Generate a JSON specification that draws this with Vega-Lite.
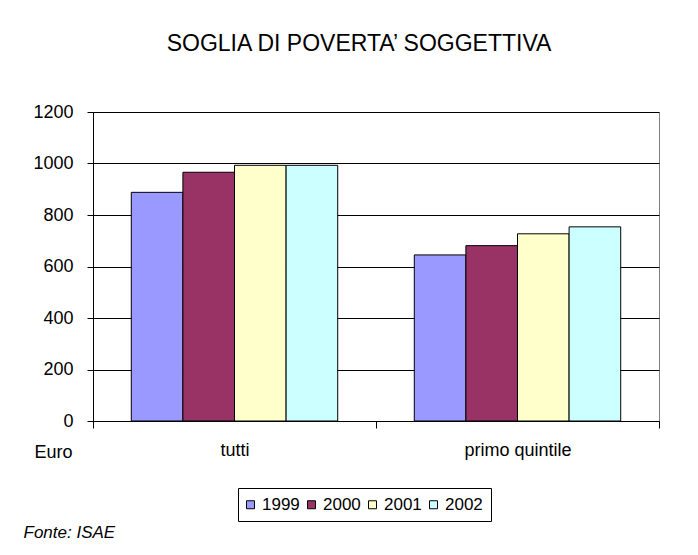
{
  "$schema": "https://vega.github.io/schema/vega-lite/v6.json",
  "width": 566,
  "height": 309,
  "autosize": {"type": "none"},
  "padding": {"left": 93, "top": 112, "right": 39, "bottom": 134},
  "background": "white",
  "title": {
    "text": "SOGLIA DI POVERTA’ SOGGETTIVA",
    "anchor": "middle",
    "frame": "group",
    "dx": -17,
    "offset": 47,
    "font": "Liberation Sans",
    "fontSize": 23,
    "fontWeight": "normal",
    "color": "black"
  },
  "config": {
    "view": {"stroke": "#808080", "strokeWidth": 1},
    "font": "Liberation Sans"
  },
  "data": {
    "values": [
      {"gruppo": "tutti", "anno": "1999", "euro": 888},
      {"gruppo": "tutti", "anno": "2000", "euro": 966},
      {"gruppo": "tutti", "anno": "2001", "euro": 993},
      {"gruppo": "tutti", "anno": "2002", "euro": 993},
      {"gruppo": "primo quintile", "anno": "1999", "euro": 645},
      {"gruppo": "primo quintile", "anno": "2000", "euro": 681},
      {"gruppo": "primo quintile", "anno": "2001", "euro": 727},
      {"gruppo": "primo quintile", "anno": "2002", "euro": 754}
    ]
  },
  "mark": {"type": "bar", "stroke": "black", "strokeWidth": 1},
  "encoding": {
    "x": {
      "field": "gruppo",
      "type": "nominal",
      "sort": null,
      "scale": {"paddingInner": 0, "paddingOuter": 0},
      "axis": {
        "title": "Fonte: ISAE",
        "titleX": -70,
        "titleY": 116,
        "titleAlign": "left",
        "titleBaseline": "alphabetic",
        "titleFontStyle": "italic",
        "titleFontWeight": "normal",
        "titleFontSize": 17,
        "titleColor": "black",
        "labelAngle": 0,
        "labelFontSize": 18,
        "labelColor": "black",
        "labelPadding": 13,
        "tickBand": "extent",
        "tickSize": 7,
        "tickColor": "black",
        "domainColor": "black",
        "grid": false
      }
    },
    "xOffset": {
      "field": "anno",
      "type": "nominal",
      "scale": {"paddingInner": 0, "paddingOuter": 0.742}
    },
    "y": {
      "field": "euro",
      "type": "quantitative",
      "scale": {"domain": [0, 1200], "nice": false},
      "axis": {
        "values": [0, 200, 400, 600, 800, 1000, 1200],
        "format": "d",
        "title": "Euro",
        "titleAngle": 0,
        "titleX": -59,
        "titleY": 345,
        "titleAlign": "left",
        "titleBaseline": "alphabetic",
        "titleFontSize": 18,
        "titleFontWeight": "normal",
        "titleColor": "black",
        "labelFontSize": 18,
        "labelColor": "black",
        "labelPadding": 14,
        "tickSize": 6,
        "tickColor": "black",
        "domainColor": "black",
        "gridColor": "black",
        "gridOpacity": 1
      }
    },
    "color": {
      "field": "anno",
      "type": "nominal",
      "scale": {
        "domain": ["1999", "2000", "2001", "2002"],
        "range": ["#9999FF", "#993366", "#FFFFCC", "#CCFFFF"]
      },
      "legend": {
        "title": null,
        "orient": "none",
        "legendX": 145,
        "legendY": 376,
        "direction": "horizontal",
        "columns": 4,
        "symbolType": "square",
        "symbolSize": 64,
        "symbolStrokeColor": "black",
        "symbolStrokeWidth": 1,
        "symbolOpacity": 1,
        "symbolOffset": -4,
        "labelFontSize": 17,
        "labelColor": "black",
        "labelOffset": 3,
        "columnPadding": 5,
        "padding": 8,
        "strokeColor": "black",
        "fillColor": "white"
      }
    }
  }
}
